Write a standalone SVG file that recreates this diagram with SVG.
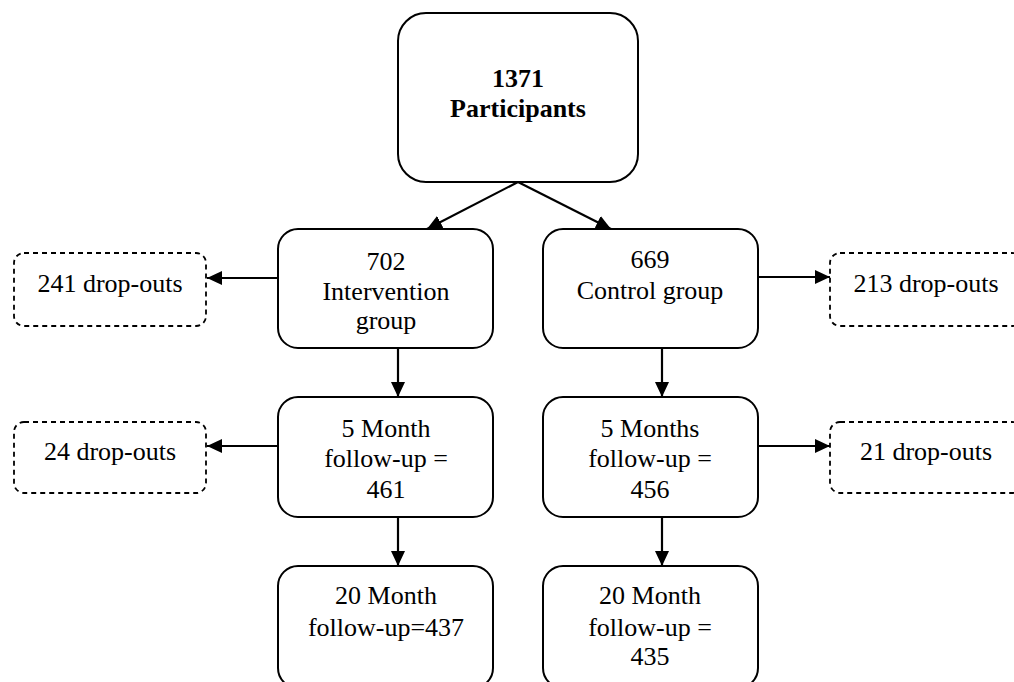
<svg xmlns="http://www.w3.org/2000/svg" width="1014" height="682" viewBox="0 0 1014 682">
<defs>
<marker id="ah" markerWidth="8" markerHeight="8" refX="7" refY="4" orient="auto" markerUnits="userSpaceOnUse" viewBox="0 0 8 8">
<path d="M0,0 L8,4 L0,8 Z" fill="#000"/>
</marker>
<marker id="ah2" markerWidth="15" markerHeight="14" refX="15" refY="7" orient="auto" markerUnits="userSpaceOnUse" viewBox="0 0 15 14">
<path d="M0,0 L15,7 L0,14 Z" fill="#000"/>
</marker>
</defs>
<style>
.box{fill:#fff;stroke:#000;stroke-width:2}
.drop{fill:#fff;stroke:#000;stroke-width:1.8;stroke-dasharray:5 4}
.t{font-family:"Liberation Serif","Times New Roman",serif;font-size:26px;fill:#000;text-anchor:middle}
.b{font-weight:bold}
.c{fill:none;stroke:#000;stroke-width:2.2}
</style>
<rect width="1014" height="682" fill="#fff"/>
<g id="connectors">
<path class="c" d="M518,182 L427,229" marker-end="url(#ah2)"/>
<path class="c" d="M518,182 L611,229" marker-end="url(#ah2)"/>
<path class="c" d="M278,278 L207,278" marker-end="url(#ah2)"/>
<path class="c" d="M758,277 L830,277" marker-end="url(#ah2)"/>
<path class="c" d="M398,348 L398,397" marker-end="url(#ah2)"/>
<path class="c" d="M662,348 L662,397" marker-end="url(#ah2)"/>
<path class="c" d="M278,446 L207,446" marker-end="url(#ah2)"/>
<path class="c" d="M758,446 L830,446" marker-end="url(#ah2)"/>
<path class="c" d="M398,517 L398,566" marker-end="url(#ah2)"/>
<path class="c" d="M662,517 L662,566" marker-end="url(#ah2)"/>
</g>
<g id="participants">
<rect class="box" x="398" y="13" width="240" height="169" rx="28"/>
<text class="t b" x="518" y="87">1371</text>
<text class="t b" x="518" y="117">Participants</text>
</g>
<g id="intervention">
<rect class="box" x="278" y="229" width="215" height="119" rx="20"/>
<text class="t" x="386" y="270">702</text>
<text class="t" x="386" y="300">Intervention</text>
<text class="t" x="386" y="329">group</text>
</g>
<g id="control">
<rect class="box" x="543" y="229" width="215" height="119" rx="20"/>
<text class="t" x="650" y="268">669</text>
<text class="t" x="650" y="299">Control group</text>
</g>
<g id="drop241">
<rect class="drop" x="14" y="253" width="192" height="73" rx="10"/>
<text class="t" x="110" y="292">241 drop-outs</text>
</g>
<g id="drop213">
<rect class="drop" x="830" y="253" width="192" height="73" rx="10"/>
<text class="t" x="926" y="292">213 drop-outs</text>
</g>
<g id="int5">
<rect class="box" x="278" y="397" width="215" height="120" rx="20"/>
<text class="t" x="386" y="437">5 Month</text>
<text class="t" x="386" y="467">follow-up =</text>
<text class="t" x="386" y="498">461</text>
</g>
<g id="con5">
<rect class="box" x="543" y="397" width="215" height="120" rx="20"/>
<text class="t" x="650" y="437">5 Months</text>
<text class="t" x="650" y="467">follow-up =</text>
<text class="t" x="650" y="498">456</text>
</g>
<g id="drop24">
<rect class="drop" x="14" y="422" width="192" height="71" rx="10"/>
<text class="t" x="110" y="460">24 drop-outs</text>
</g>
<g id="drop21">
<rect class="drop" x="830" y="422" width="192" height="71" rx="10"/>
<text class="t" x="926" y="460">21 drop-outs</text>
</g>
<g id="int20">
<rect class="box" x="278" y="566" width="215" height="122" rx="20"/>
<text class="t" x="386" y="604">20 Month</text>
<text class="t" x="386" y="636">follow-up=437</text>
</g>
<g id="con20">
<rect class="box" x="543" y="566" width="215" height="122" rx="20"/>
<text class="t" x="650" y="604">20 Month</text>
<text class="t" x="650" y="636">follow-up =</text>
<text class="t" x="650" y="665">435</text>
</g>
</svg>
